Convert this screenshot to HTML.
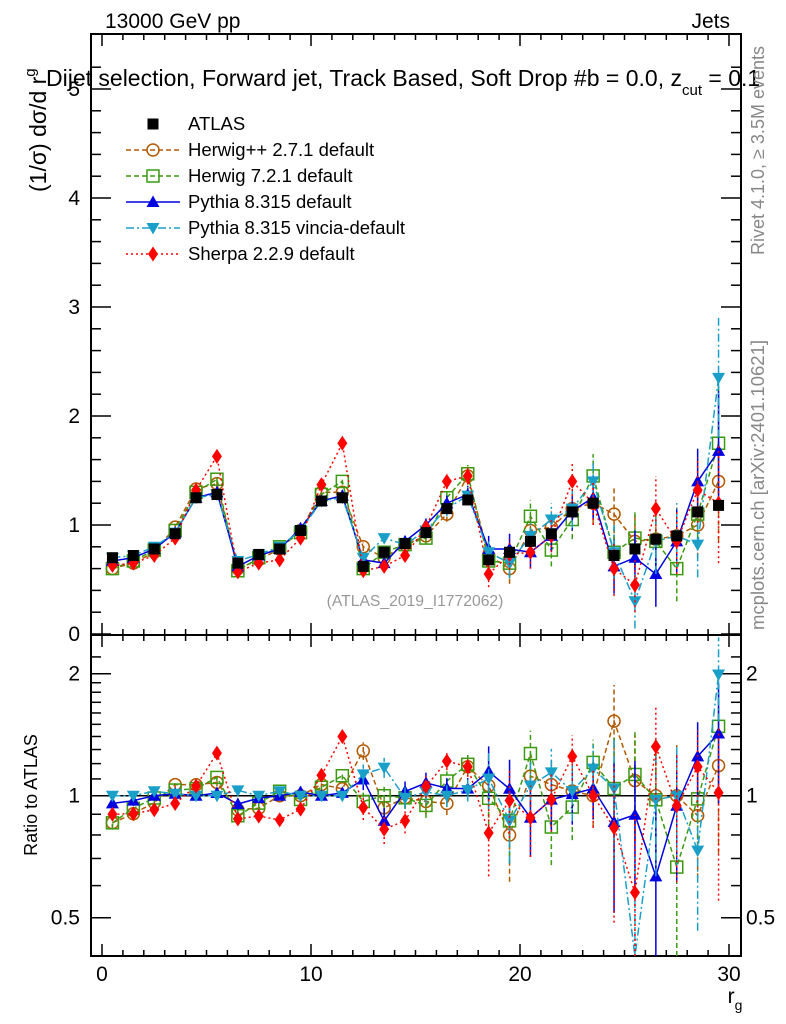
<!DOCTYPE html>
<html><head><meta charset="utf-8"><style>
body{margin:0;background:#fff;}
svg{display:block;font-family:"Liberation Sans",sans-serif;}
</style></head><body>
<svg id="chart" width="786" height="1024" viewBox="0 0 786 1024" xmlns="http://www.w3.org/2000/svg">
<text x="105" y="28" font-size="21">13000 GeV pp</text>
<text x="730" y="28" font-size="21" text-anchor="end">Jets</text>
<text x="46" y="86" font-size="23">Dijet selection, Forward jet, Track Based, Soft Drop #b = 0.0, z<tspan font-size="15" dy="9">cut</tspan><tspan dy="-9"> = 0.1</tspan></text>
<text transform="translate(46,192) rotate(-90)" font-size="23">(1/σ) dσ/d r<tspan font-size="15" dy="-11">g</tspan></text>
<text transform="translate(764,255) rotate(-90)" font-size="18" fill="#888">Rivet 4.1.0, ≥ 3.5M events</text>
<text transform="translate(764,630) rotate(-90)" font-size="18.5" fill="#888">mcplots.cern.ch [arXiv:2401.10621]</text>
<text x="415" y="606" font-size="15.7" fill="#999" text-anchor="middle">(ATLAS_2019_I1772062)</text>
<text transform="translate(37,795) rotate(-90)" font-size="18" text-anchor="middle">Ratio to ATLAS</text>
<text x="735" y="1003" font-size="21" text-anchor="middle">r<tspan font-size="14" dy="7">g</tspan></text>
<g id="plot"></g>
</svg>
<script>
const bins=[0.5,1.5,2.5,3.5,4.5,5.5,6.5,7.5,8.5,9.5,10.5,11.5,12.5,13.5,14.5,15.5,16.5,17.5,18.5,19.5,20.5,21.5,22.5,23.5,24.5,25.5,26.5,27.5,28.5,29.5];
const atlas=[0.70,0.72,0.78,0.92,1.25,1.28,0.65,0.73,0.78,0.95,1.22,1.25,0.62,0.75,0.83,0.93,1.15,1.23,0.68,0.75,0.85,0.92,1.12,1.2,0.72,0.78,0.87,0.9,1.12,1.18];
const herwigpp=[0.6,0.65,0.75,0.98,1.33,1.38,0.6,0.68,0.78,0.95,1.3,1.3,0.8,0.7,0.82,0.9,1.1,1.45,0.72,0.6,0.95,0.98,1.15,1.2,1.1,0.85,0.87,0.9,1.0,1.4];
const herwig7=[0.6,0.67,0.77,0.95,1.3,1.42,0.58,0.7,0.8,0.93,1.28,1.4,0.6,0.75,0.82,0.88,1.25,1.47,0.67,0.65,1.08,0.77,1.05,1.45,0.75,0.88,0.85,0.6,1.1,1.75];
const pythia=[0.67,0.7,0.78,0.93,1.25,1.3,0.62,0.72,0.78,0.97,1.22,1.27,0.68,0.65,0.85,1.0,1.2,1.28,0.78,0.78,0.75,0.9,1.13,1.25,0.62,0.7,0.55,0.85,1.4,1.68];
const vincia=[0.7,0.72,0.8,0.93,1.25,1.28,0.67,0.73,0.8,0.95,1.22,1.25,0.7,0.88,0.82,0.95,1.15,1.27,0.75,0.65,0.9,1.05,1.15,1.4,0.75,0.3,0.85,0.9,0.82,2.35];
const sherpa=[0.63,0.65,0.72,0.88,1.32,1.63,0.57,0.65,0.68,0.88,1.37,1.75,0.58,0.62,0.72,0.98,1.4,1.45,0.55,0.73,0.75,0.9,1.4,1.2,0.6,0.45,1.15,0.85,1.32,1.2];
const mcErr=[0.02,0.02,0.02,0.02,0.03,0.03,0.02,0.02,0.02,0.03,0.03,0.03,0.04,0.05,0.05,0.06,0.07,0.08,0.12,0.14,0.15,0.15,0.18,0.2,0.25,0.25,0.3,0.3,0.3,0.55];
const xTicks=[0,10,20,30];
const yTicks=[0,1,2,3,4,5];
const rTicks=[0.5,1,2];

const NS="http://www.w3.org/2000/svg";
const L=91,R=741,T=34,MB=635,RB=956;
const X=v=>102+v*20.9;
const Y=v=>634-v*109;
const YR=v=>795.7-Math.log2(v)*122;
const g=document.getElementById('plot');
function el(tag,attrs,parent){const e=document.createElementNS(NS,tag);for(const k in attrs)e.setAttribute(k,attrs[k]);(parent||g).appendChild(e);return e;}

let f1=el('rect',{x:L,y:T,width:R-L,height:MB-T,fill:'none',stroke:'#000','stroke-width':2});


let f2=el('rect',{x:L,y:MB,width:R-L,height:RB-MB,fill:'none',stroke:'#000','stroke-width':2});



for(let v=0;v<=30;v++){
  const big=v%10===0, len=big?12:6;
  [[T,1],[MB,-1],[MB,1],[RB,-1]].forEach(([y0,d])=>el('line',{x1:X(v),x2:X(v),y1:y0,y2:y0+d*len,stroke:'#000','stroke-width':1.5}));
}
xTicks.forEach(v=>{
  const t=el('text',{x:X(v),y:981,'font-size':21,'text-anchor':'middle'});
  t.textContent=v;
  
  
});
for(let v=0;v<=5.4;v+=0.2){
  const big=Math.abs(v-Math.round(v))<1e-6, len=big?20:10;
  el('line',{x1:L,x2:L+len,y1:Y(v),y2:Y(v),stroke:'#000','stroke-width':1.5});
  el('line',{x1:R,x2:R-len,y1:Y(v),y2:Y(v),stroke:'#000','stroke-width':1.5});
}
yTicks.forEach(v=>{
  const t=el('text',{x:80,y:Y(v)+7,'font-size':21,'text-anchor':'end'});
  t.textContent=v;
  
  
});
[0.4,0.5,0.6,0.7,0.8,0.9,1,1.1,1.2,1.3,1.4,1.5,1.6,1.7,1.8,1.9,2,2.2].forEach(v=>{
  if(YR(v)<MB||YR(v)>RB)return;
  const big=rTicks.includes(v), len=big?20:10;
  el('line',{x1:L,x2:L+len,y1:YR(v),y2:YR(v),stroke:'#000','stroke-width':1.5});
  el('line',{x1:R,x2:R-len,y1:YR(v),y2:YR(v),stroke:'#000','stroke-width':1.5});
});
rTicks.forEach(v=>{
  const t=el('text',{x:80,y:YR(v)+7,'font-size':21,'text-anchor':'end'});
  t.textContent=v;
  
  
  const t2=el('text',{x:746,y:YR(v)+7,'font-size':21});
  t2.textContent=v;
  
  
});
let ref=el('line',{x1:L,x2:R,y1:YR(1),y2:YR(1),stroke:'#000','stroke-width':1.5});



function marker(kind,color,x,y,parent){
  if(kind==='sq') return el('rect',{x:x-5.5,y:y-5.5,width:11,height:11,fill:'#000'},parent);
  if(kind==='circ') return el('circle',{cx:x,cy:y,r:6,fill:'none',stroke:color,'stroke-width':1.5},parent);
  if(kind==='osq') return el('rect',{x:x-6,y:y-6,width:12,height:12,fill:'none',stroke:color,'stroke-width':1.5},parent);
  if(kind==='up') return el('polygon',{points:`${x},${y-6.5} ${x-6.5},${y+5} ${x+6.5},${y+5}`,fill:color},parent);
  if(kind==='down') return el('polygon',{points:`${x},${y+6.5} ${x-6.5},${y-5} ${x+6.5},${y-5}`,fill:color},parent);
  if(kind==='dia') return el('polygon',{points:`${x},${y-7.5} ${x-5},${y} ${x},${y+7.5} ${x+5},${y}`,fill:color},parent);
}
const series=[
 {name:'herwigpp',label:'Herwig++ 2.7.1 default',vals:herwigpp,color:'#b35900',dash:'5,3',kind:'circ'},
 {name:'herwig7',label:'Herwig 7.2.1 default',vals:herwig7,color:'#3a9a10',dash:'5,3',kind:'osq'},
 {name:'pythia',label:'Pythia 8.315 default',vals:pythia,color:'#0000e0',dash:'',kind:'up'},
 {name:'vincia',label:'Pythia 8.315 vincia-default',vals:vincia,color:'#1a9fc8',dash:'8,3,2,3',kind:'down'},
 {name:'sherpa',label:'Sherpa 2.2.9 default',vals:sherpa,color:'#ff0000',dash:'2,3',kind:'dia'}
];
function clampR(v){return Math.min(Math.max(YR(Math.max(v,0.01)),MB),RB);}
series.forEach(s=>{
  const gm=el('g',{});
  
  
  const gr=el('g',{});
  
  
  const pm=bins.map((b,i)=>`${X(b)},${Y(s.vals[i])}`).join(' ');
  el('polyline',{points:pm,fill:'none',stroke:s.color,'stroke-width':1.5,'stroke-dasharray':s.dash},gm);
  const pr=bins.map((b,i)=>`${X(b)},${clampR(s.vals[i]/atlas[i])}`).join(' ');
  el('polyline',{points:pr,fill:'none',stroke:s.color,'stroke-width':1.5,'stroke-dasharray':s.dash},gr);
  bins.forEach((b,i)=>{
    const x=X(b),v=s.vals[i],e=mcErr[i];
    el('line',{x1:x,x2:x,y1:Y(v-e),y2:Y(v+e),stroke:s.color,'stroke-width':1.5,'stroke-dasharray':s.dash},gm);
    const m=marker(s.kind,s.color,x,Y(v),gm);
    
    
    const r=v/atlas[i],re=e/atlas[i];
    el('line',{x1:x,x2:x,y1:clampR(r-re),y2:clampR(r+re),stroke:s.color,'stroke-width':1.5,'stroke-dasharray':s.dash},gr);
    if(YR(r)>MB&&YR(r)<RB){
      const m2=marker(s.kind,s.color,x,YR(r),gr);
      
      
    }
  });
});
bins.forEach((b,i)=>{
  const m=marker('sq','#000',X(b),Y(atlas[i]));
  
  
});
const leg=el('g',{});


const entries=[{label:'ATLAS',kind:'sq',color:'#000',dash:''}].concat(series);
entries.forEach((s,i)=>{
  const y=124+i*26;
  const ge=el('g',{},leg);
  
  
  if(s.kind!=='sq') el('line',{x1:126,x2:180,y1:y,y2:y,stroke:s.color,'stroke-width':1.5,'stroke-dasharray':s.dash},ge);
  marker(s.kind,s.color,153,y,ge);
  const t=el('text',{x:188,y:y+6,'font-size':18.5},ge);
  t.textContent=s.label;
});
</script>
</body></html>
